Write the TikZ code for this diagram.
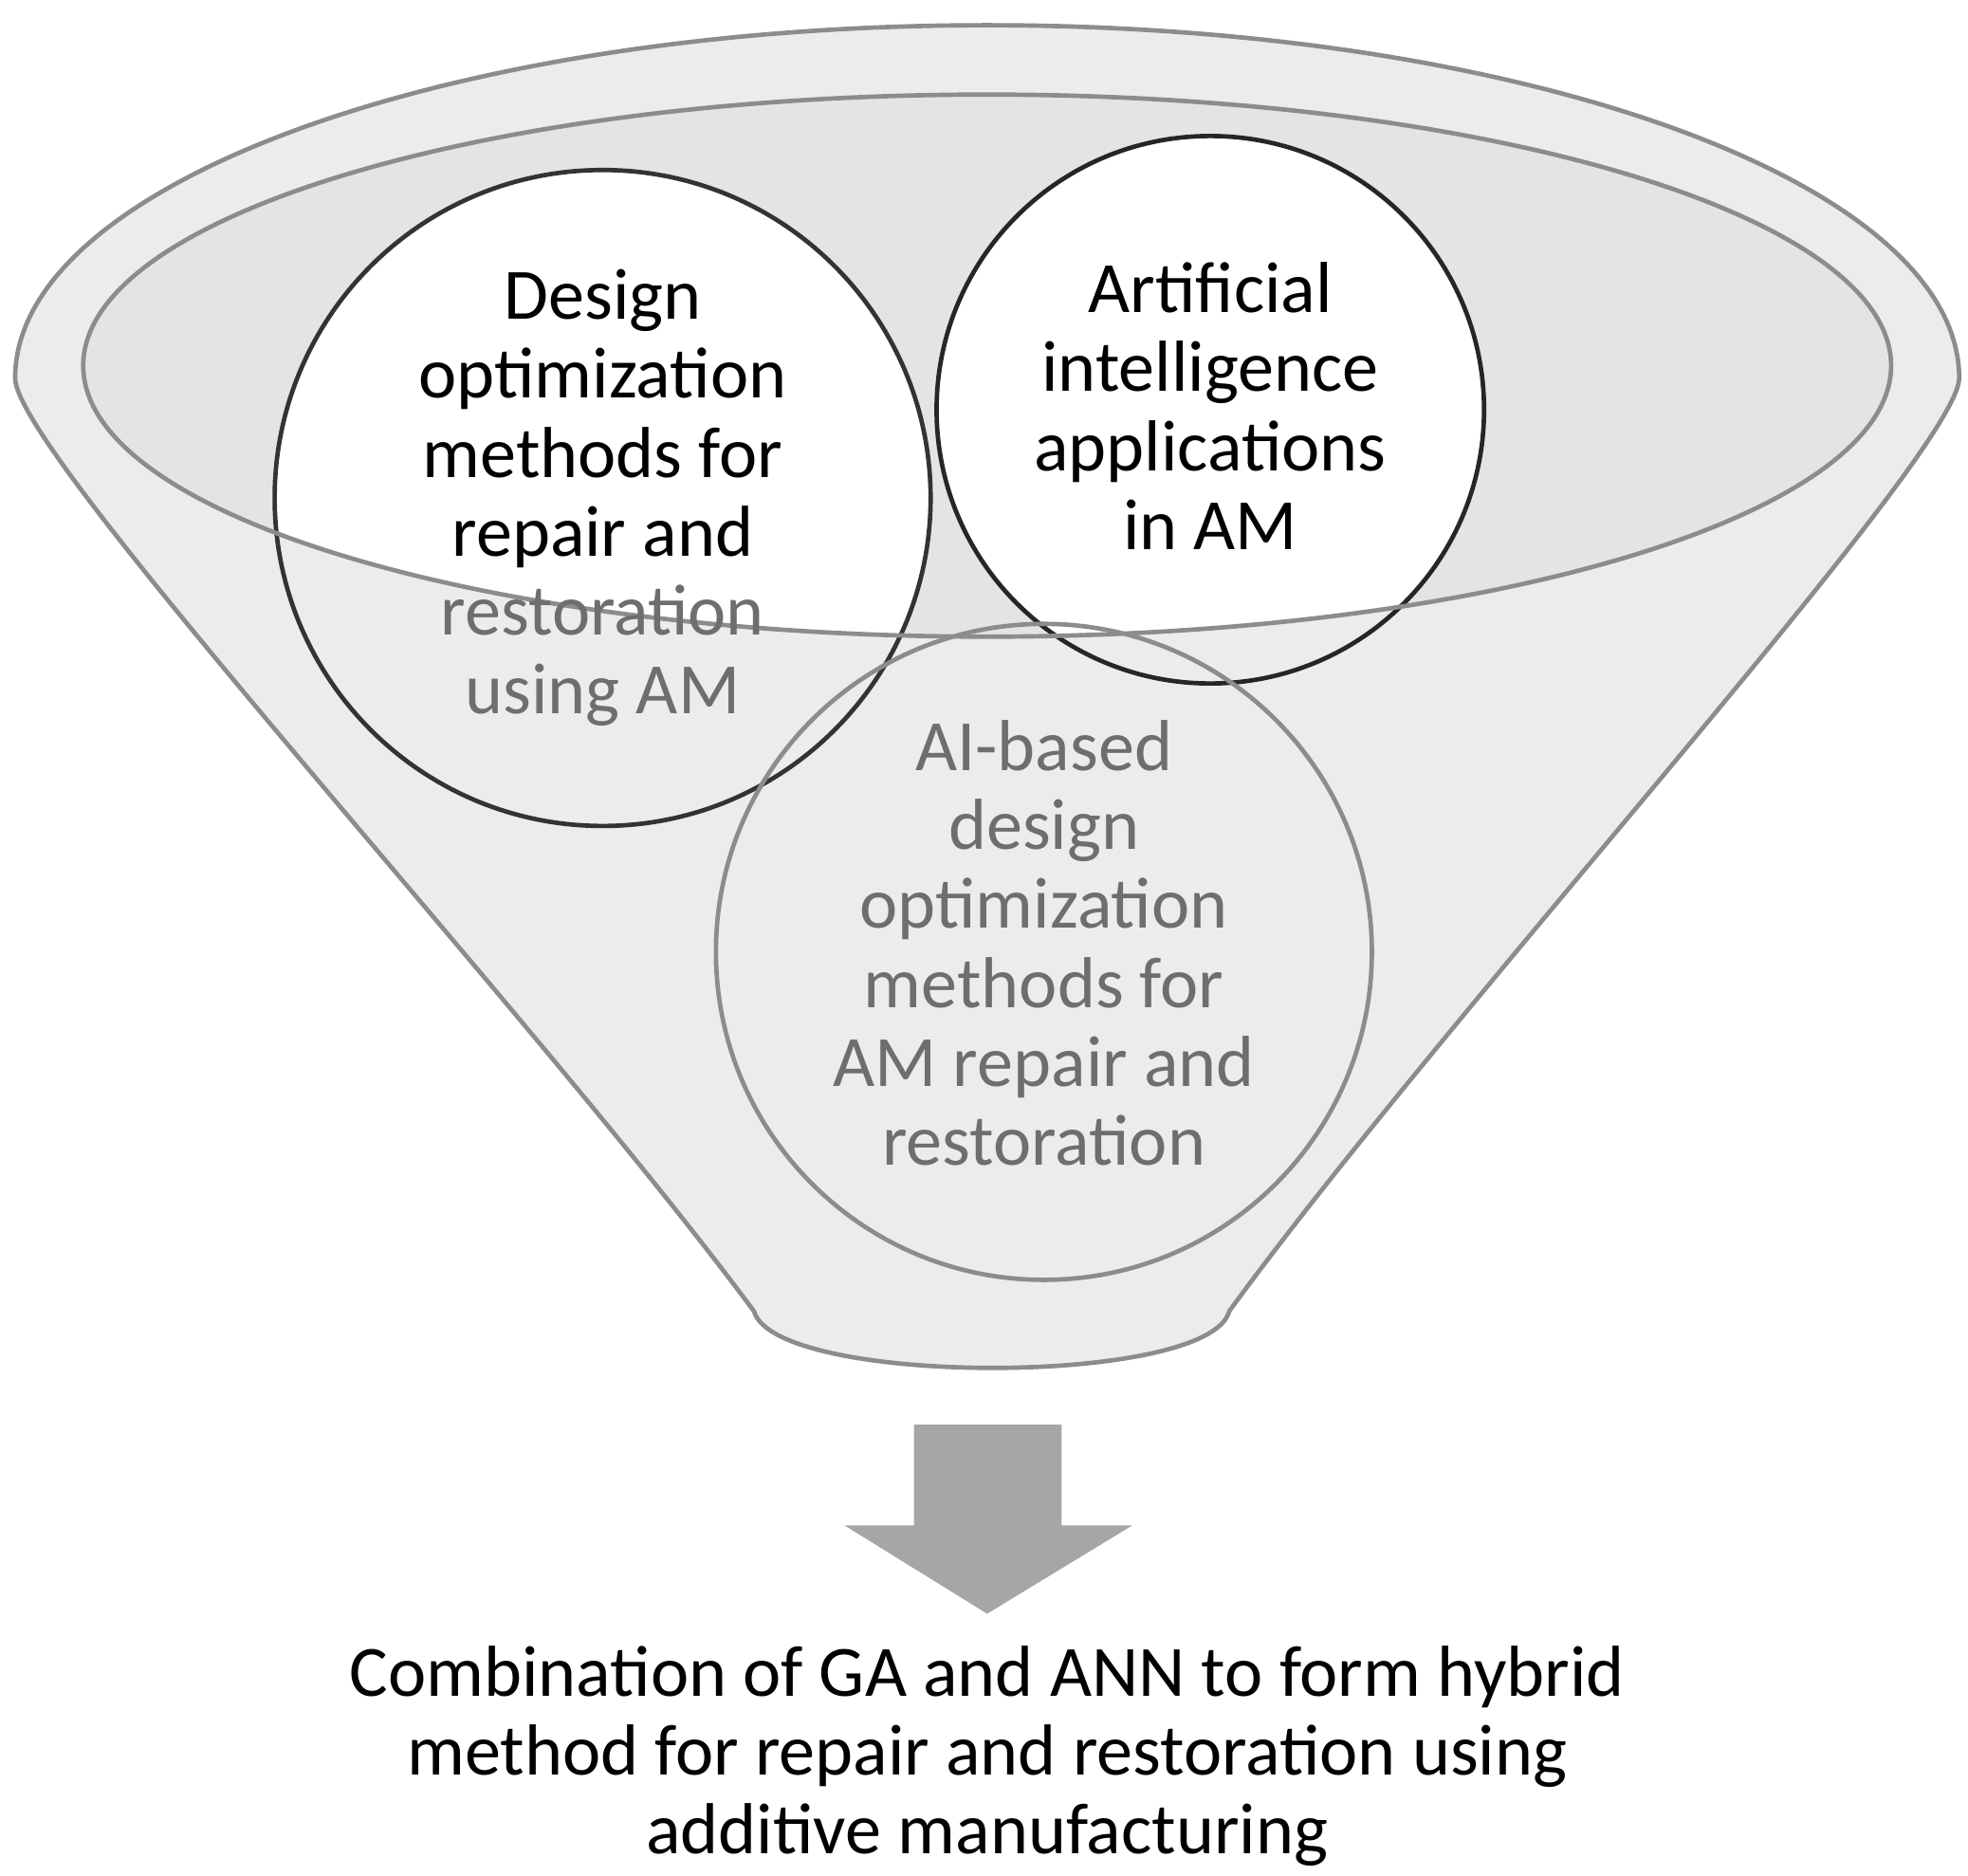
\documentclass[tikz,border=0pt]{standalone}
\usepackage{fontspec}
\setmainfont{Carlito}
\begin{document}
\begin{tikzpicture}[x=0.01cm,y=-0.01cm,
  txt/.style={align=center,font=\fontsize{16.3}{17.8}\selectfont,inner sep=0pt},
  ring/.style={circle,draw=#1,line width=1pt,inner sep=0pt}]
\useasboundingbox (0,0) rectangle (1561,1488);
\definecolor{fun}{HTML}{ECECEC}
\definecolor{inn}{HTML}{E4E4E4}
\definecolor{edge}{HTML}{8C8C8C}
\definecolor{gtxt}{HTML}{6E6E6E}
% funnel
\path[fill=fun,draw=edge,line width=1pt]
  (12,300) arc[start angle=180,end angle=360,x radius=771,y radius=280]
  .. controls (1553,360) and (1150,800) .. (975,1040)
  .. controls (960,1100) and (615,1100) .. (598,1040)
  .. controls (420,800) and (12,360) .. (12,300) -- cycle;
\fill[inn] (783,290) ellipse[x radius=717,y radius=215];
\begin{scope}
  \clip (783,290) ellipse[x radius=717,y radius=215];
  \fill[white] (478,395) circle[radius=260];
  \fill[white] (960,325) circle[radius=217];
\end{scope}
\node[ring=black!80,minimum size=5.2cm] (c1) at (478,395) {};
\node[ring=black!85,minimum size=4.34cm] (c2) at (960,325) {};
\node[ring=edge,minimum size=5.2cm] (c3) at (828,755) {};
\draw[edge,line width=1pt] (783,290) ellipse[x radius=717,y radius=215];
\node[txt] (t1) at (478,395) {Design\\optimization\\methods for\\repair and\\\textcolor{gtxt}{restoration}\\\textcolor{gtxt}{using AM}};
\node[txt] (t2) at (960,322) {Artificial\\intelligence\\applications\\in AM};
\node[txt,text=gtxt] (t3) at (828,748) {AI-based\\design\\optimization\\methods for\\AM repair and\\restoration};
% arrow
\fill[black!35] (725,1130) -- (842,1130) -- (842,1210) -- (898,1210) -- (783,1280) -- (670,1210) -- (725,1210) -- cycle;
\node[txt] (b) at (783,1393) {Combination of GA and ANN to form hybrid\\method for repair and restoration using\\additive manufacturing};
\end{tikzpicture}
\end{document}
